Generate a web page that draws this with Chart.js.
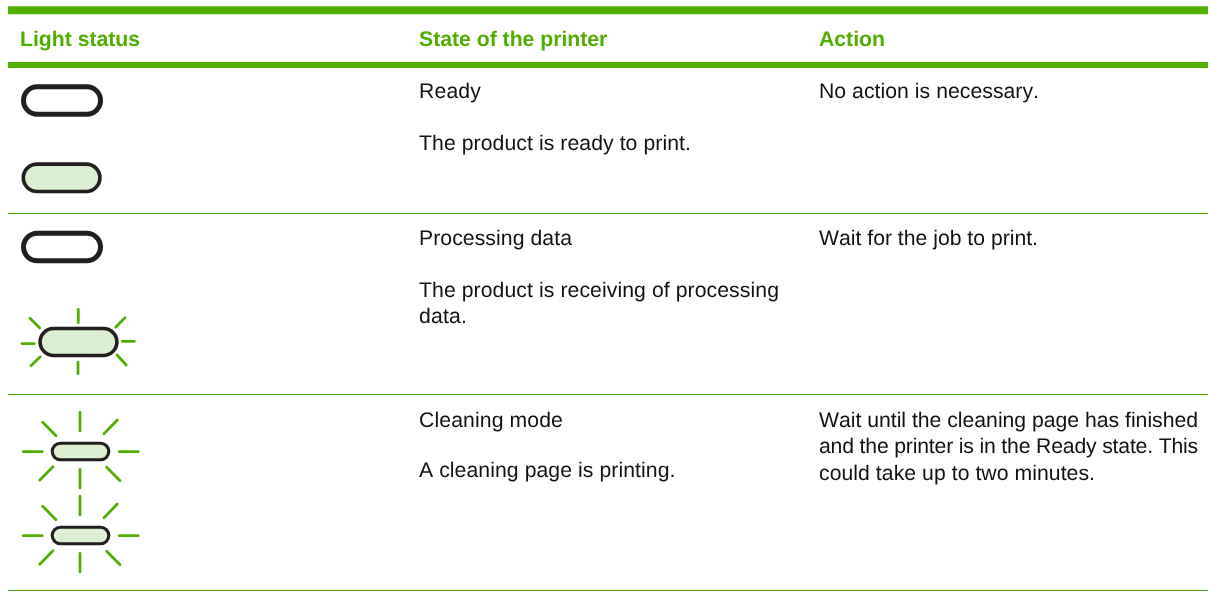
<!DOCTYPE html>
<html>
<head>
<meta charset="utf-8">
<title>Light status</title>
<script src="https://cdn.jsdelivr.net/npm/chart.js@4"></script>
<style>
html, body { margin: 0; padding: 0; background: #fff; overflow: hidden; }
canvas { display: block; }
</style>
</head>
<body>
<canvas id="chart" width="1210" height="591"></canvas>
<script>
// Table content
const headers = ['Light status', 'State of the printer', 'Action'];
const stateLines = ['Ready', 'The product is ready to print.', 'Processing data',
    'The product is receiving of processing', 'data.', 'Cleaning mode', 'A cleaning page is printing.'];
const stateBaselines = [98, 150, 245, 297, 323, 427, 477];
const stateLineEnds = [481, 691, 572, 779, 467, 563, 675.5];
const actionLines = ['No action is necessary.', 'Wait for the job to print.',
    'Wait until the cleaning page has finished', 'and the printer is in the Ready state. This', 'could take up to two minutes.'];
const actionBaselines = [98, 245, 427, 453, 480];
const actionLineEnds = [1039, 1038, 1198, 1198, 1095];

// Column starts and rules, read in the units of the picture
const columnStarts = [20, 419, 819];
const ruleStart = 8;
const ruleEnd = 1208;
const heavyRules = [10.3, 65];
const heavyWidths = [8, 6];
const thinRules = [213.5, 394.5, 590.5];

// Lamps
const lampLeft = [21, 21.5, 21, 38.3, 50.7, 50.7];
const lampRight = [103, 101.7, 103, 118.7, 110.3, 110.3];
const lampTop = [84.3, 162.3, 230.7, 326.7, 441.7, 525.7];
const lampBottom = [116.7, 193.3, 263.3, 357.3, 461.3, 545.3];
const lampStroke = [5, 3.6, 5, 3.6, 3.1, 3.1];
const lampLit = [false, true, false, true, true, true];

// Blink rays, [x1, y1, x2, y2]
const smallRays = [
    [78.3, 309.3, 78.3, 322.7], [78, 362, 78, 373.7], [22, 343.7, 34.3, 343.7], [122.3, 341.3, 134.3, 341.3],
    [30, 318.3, 39.7, 328], [125, 317.7, 115.7, 327.3], [31, 365.7, 40.3, 356.7], [126.3, 365, 117, 355]
];
const cleaningRaysA = [
    [80, 412.3, 80, 431], [80, 469.3, 80, 488], [23.3, 451.7, 42.3, 451.7], [119.3, 451.7, 138.3, 451.7],
    [42.7, 422.3, 56, 435.7], [117.3, 420, 104, 433.7], [39.7, 480.3, 53, 466.7], [120, 480.7, 106.7, 467.3]
];
const cleaningRaysB = [
    [80, 496.3, 80, 515], [80, 553.3, 80, 572], [23.3, 535.7, 42.3, 535.7], [119.3, 535.7, 138.3, 535.7],
    [42.7, 506.3, 56, 519.7], [117.3, 504, 104, 517.7], [39.7, 564.3, 53, 550.7], [120, 564.7, 106.7, 551.3]
];

const green = '#4fae00';
const dark = '#231f20';
const lampFill = '#dcefd2';

function segment(points, color, width, cap) {
    return {
        data: points,
        showLine: true,
        borderColor: color,
        borderWidth: width,
        borderCapStyle: cap,
        pointRadius: 0,
        clip: false
    };
}

const datasets = [];
heavyRules.forEach((y, i) => {
    datasets.push(segment([{ x: ruleStart, y }, { x: ruleEnd, y }], green, heavyWidths[i], 'butt'));
});
thinRules.forEach((y) => {
    datasets.push(segment([{ x: ruleStart, y }, { x: ruleEnd, y }], green, 1, 'butt'));
});
lampLeft.forEach((left, i) => {
    const height = lampBottom[i] - lampTop[i];
    const y = (lampTop[i] + lampBottom[i]) / 2;
    const points = [{ x: left + height / 2, y }, { x: lampRight[i] - height / 2, y }];
    datasets.push(segment(points, dark, height, 'round'));
    datasets.push(segment(points, lampLit[i] ? lampFill : '#ffffff', height - 2 * lampStroke[i], 'round'));
});
[smallRays, cleaningRaysA, cleaningRaysB].forEach((rays) => {
    rays.forEach((r) => {
        datasets.push(segment([{ x: r[0], y: r[1] }, { x: r[2], y: r[3] }], green, 2.7, 'round'));
    });
});
// Chart.js paints the first dataset last, the lamp fills have to end up on top
datasets.reverse();

// Stretches a line a little so it ends where it ends in the reference
function fittedLine(ctx, scales, text, column, baseline, lineEnd) {
    const x = scales.x.getPixelForValue(column);
    ctx.letterSpacing = '0px';
    const extra = scales.x.getPixelForValue(lineEnd) - x - ctx.measureText(text).width;
    ctx.letterSpacing = (extra / text.length) + 'px';
    ctx.fillText(text, x, scales.y.getPixelForValue(baseline));
}

// Table text goes through the same scales as the rules
const tableText = {
    id: 'tableText',
    afterDatasetsDraw(chart) {
        const { ctx, scales } = chart;
        ctx.save();
        ctx.textRendering = 'geometricPrecision';
        ctx.fontKerning = 'none';
        ctx.textBaseline = 'alphabetic';
        ctx.textAlign = 'left';
        ctx.font = 'bold 21.2px "Liberation Sans"';
        ctx.fillStyle = green;
        headers.forEach((text, i) => {
            ctx.fillText(text, scales.x.getPixelForValue(columnStarts[i]), scales.y.getPixelForValue(46));
        });
        ctx.font = '21.2px "Liberation Sans"';
        ctx.fillStyle = '#111111';
        stateLines.forEach((text, i) => {
            fittedLine(ctx, scales, text, columnStarts[1], stateBaselines[i], stateLineEnds[i]);
        });
        actionLines.forEach((text, i) => {
            fittedLine(ctx, scales, text, columnStarts[2], actionBaselines[i], actionLineEnds[i]);
        });
        ctx.restore();
    }
};

new Chart(document.getElementById('chart'), {
    type: 'scatter',
    data: { datasets },
    options: {
        responsive: false,
        animation: false,
        layout: { padding: 0 },
        plugins: { legend: { display: false }, tooltip: { enabled: false } },
        scales: {
            x: { type: 'linear', min: 0, max: 1210, display: false },
            y: { type: 'linear', min: 0, max: 591, reverse: true, display: false }
        }
    },
    plugins: [tableText]
});
</script>
</body>
</html>
